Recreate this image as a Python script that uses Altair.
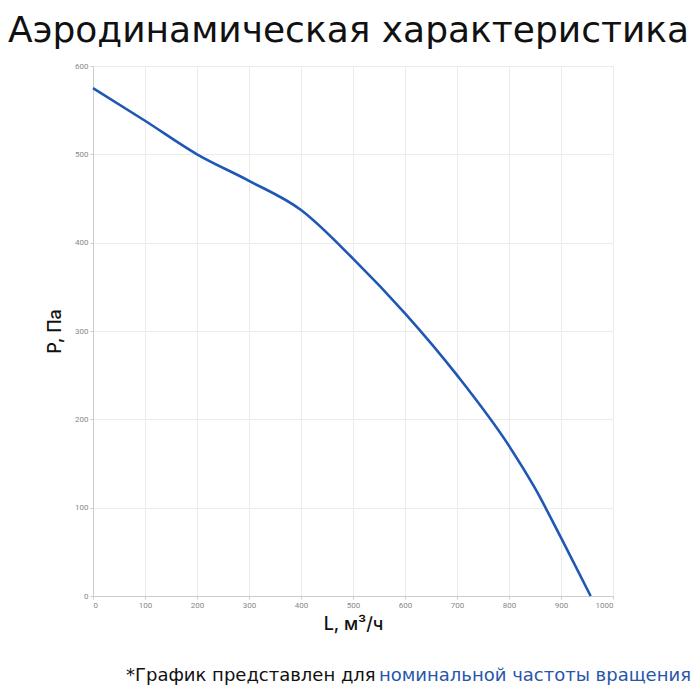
import altair as alt
import pandas as pd

L_vals = [0, 100, 200, 300, 400, 500, 600, 700, 800, 850, 900, 957]
P_vals = [575, 538, 500, 470, 437, 382, 320, 250, 170, 122, 66, 0]

title_text = "Аэродинамическая характеристика"
x_title = "L, м³/ч"
y_title = "P, Па"
foot_black = "*График представлен для"
foot_blue = "номинальной частоты вращения"

df = pd.DataFrame({"L": L_vals, "P": P_vals})

W, H = 520, 530

axis_common = dict(
    titleFontSize=18, titleFont="Inter", titleFontWeight=500, titleColor="#111",
    labelFontSize=8, labelColor="#888", labelFont="Roboto", format="d",
    tickSize=3, tickColor="#ccc", domainColor="#ccc", gridColor="#ebebeb",
)

line = alt.Chart(df).mark_line(color="#1f57b5", strokeWidth=2.6, interpolate="monotone").encode(
    x=alt.X("L:Q", scale=alt.Scale(domain=[0, 1000], nice=False),
            axis=alt.Axis(values=list(range(0, 1001, 100)), title=x_title,
                          titlePadding=6, **axis_common)),
    y=alt.Y("P:Q", scale=alt.Scale(domain=[0, 600], nice=False),
            axis=alt.Axis(values=list(range(0, 601, 100)), title=y_title,
                          titlePadding=10, **axis_common)),
)

title = alt.Chart(pd.DataFrame({"t": [title_text]})).mark_text(
    fontSize=36, font="DejaVu Sans", color="#111", align="left", baseline="alphabetic"
).encode(text="t:N", x=alt.value(8 - 93), y=alt.value(42 - 66))

fb = alt.Chart(pd.DataFrame({"t": [foot_black]})).mark_text(
    fontSize=18, font="DejaVu Sans", color="#111", align="left", baseline="alphabetic"
).encode(text="t:N", x=alt.value(126 - 93), y=alt.value(681 - 66))

fbl = alt.Chart(pd.DataFrame({"t": [foot_blue]})).mark_text(
    fontSize=18, font="DejaVu Sans", color="#2757a8", align="right", baseline="alphabetic"
).encode(text="t:N", x=alt.value(691 - 93), y=alt.value(681 - 66))

chart = alt.layer(line, title, fb, fbl).properties(
    width=W, height=H,
    autosize=alt.AutoSizeParams(type="none"),
    padding={"left": 85, "top": 58, "right": 79, "bottom": 95},
).configure_view(strokeWidth=0).configure(background="white")

chart.save("out.html", embed_options={"renderer": "svg", "actions": False})
